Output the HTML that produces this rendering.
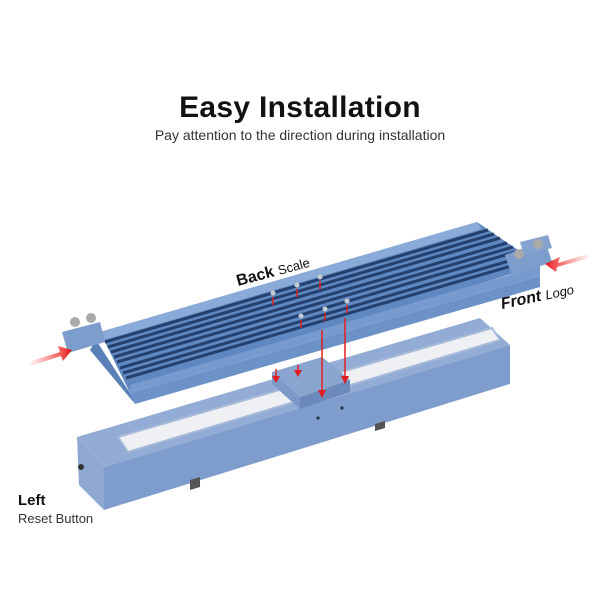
<!DOCTYPE html>
<html><head><meta charset="utf-8"><style>
html,body{margin:0;padding:0;background:#fff;width:600px;height:600px;overflow:hidden;font-family:"Liberation Sans",sans-serif}
.t{position:absolute;left:0;width:600px;text-align:center;color:#111}
</style></head><body>
<div class="t" style="top:91px;font-size:30px;font-weight:bold;letter-spacing:0.3px">Easy Installation</div>
<div class="t" style="top:127px;font-size:14px;color:#333">Pay attention to the direction during installation</div>
<svg width="600" height="600" style="position:absolute;left:0;top:0">
<defs>
<linearGradient id="ra" x1="0" x2="1"><stop offset="0" stop-color="#f33" stop-opacity="0"/><stop offset="1" stop-color="#e41b1b"/></linearGradient>
<linearGradient id="rb" x1="1" x2="0"><stop offset="0" stop-color="#f33" stop-opacity="0"/><stop offset="1" stop-color="#e41b1b"/></linearGradient>
</defs>
<!-- base box -->
<polygon points="77,437 480,318 510,345 104,467" fill="#93acd5"/>
<polygon points="104,467 510,345 510,384 104,510" fill="#7f9dcc"/>
<polygon points="77,437 104,467 104,510 79,485" fill="#8ea8d2"/>
<polygon points="190,480 200,477 200,487 190,490" fill="#555"/>
<polygon points="375,424 385,421 385,428 375,431" fill="#555"/>
<polygon points="118,437 492,328 500,340 128,452" fill="#eef0f3" stroke="#a6b9d8" stroke-width="2"/>
<circle cx="81" cy="467" r="3" fill="#333"/>
<circle cx="318" cy="418" r="1.6" fill="#234"/><circle cx="342" cy="408" r="1.6" fill="#234"/>
<!-- carriage -->
<polygon points="272,372 322,357 350,380 300,397" fill="#8aa5cf"/>
<polygon points="300,397 350,380 350,392 300,409" fill="#6b89ba"/>
<polygon points="272,372 300,397 300,409 272,384" fill="#7c99c8"/>
<!-- plate -->
<polygon points="100,332 477,222 540,265 130,393" fill="#5f87c0"/>
<polygon points="96,340 130,393 135,404 90,350" fill="#5a80b8"/>
<polygon points="130,393 540,276 540,287 135,404" fill="#6d92c8"/>
<polygon points="130,385 540,266 540,276 130,393" fill="#789bcf"/>
<polygon points="100,332 477,222 482,229 104,340" fill="#8aaad8"/>
<g stroke="#24406e" stroke-width="3">
<line x1="105" y1="342" x2="488" y2="230"/>
<line x1="108" y1="347" x2="494" y2="234"/>
<line x1="111" y1="352" x2="500" y2="238"/>
<line x1="114" y1="357" x2="507" y2="243"/>
<line x1="117" y1="362" x2="513" y2="247"/>
<line x1="120" y1="368" x2="519" y2="251"/>
<line x1="123" y1="373" x2="526" y2="256"/>
<line x1="126" y1="378" x2="532" y2="260"/>
</g>
<!-- brackets -->
<polygon points="62,332 100,322 105,342 68,353" fill="#7d9dcc"/>
<circle cx="75" cy="322" r="5" fill="#aaa"/><circle cx="91" cy="318" r="5" fill="#aaa"/>
<polygon points="505,255 545,240 552,262 512,276" fill="#7d9dcc"/>
<polygon points="520,242 548,235 552,248 524,255" fill="#86a3cf"/>
<circle cx="519" cy="254" r="5" fill="#aaa"/><circle cx="538" cy="244" r="5" fill="#aaa"/>
<!-- screws and red lines -->
<g stroke="#e02020" stroke-width="1.5">
<line x1="322" y1="330" x2="322" y2="392"/>
<line x1="345" y1="318" x2="345" y2="378"/>
<line x1="298" y1="365" x2="298" y2="372"/>
<line x1="276" y1="369" x2="276" y2="378"/>
<line x1="273" y1="297" x2="273" y2="305"/>
<line x1="297" y1="289" x2="297" y2="297"/>
<line x1="320" y1="281" x2="320" y2="289"/>
<line x1="301" y1="320" x2="301" y2="328"/>
<line x1="325" y1="313" x2="325" y2="321"/>
<line x1="347" y1="305" x2="347" y2="313"/>
</g>
<g fill="#e02020">
<polygon points="318,390 326,390 322,398"/><polygon points="341,376 349,376 345,384"/>
<polygon points="294,370 302,370 298,377"/><polygon points="272,376 280,376 276,383"/>
</g>
<g fill="#c8ccd2"><circle cx="273" cy="293" r="2.5"/><circle cx="297" cy="285" r="2.5"/><circle cx="320" cy="277" r="2.5"/><circle cx="301" cy="316" r="2.5"/><circle cx="325" cy="309" r="2.5"/><circle cx="347" cy="301" r="2.5"/></g>
<!-- big red arrows -->
<polygon points="28,362 60,352 58,346 72,350 63,361 61,356 30,366" fill="url(#ra)"/>
<polygon points="588,254 558,263 560,257 545,264 556,272 557,267 590,258" fill="url(#rb)"/>
<text x="0" y="0" transform="translate(238,286) rotate(-15)" font-size="16" font-weight="bold" fill="#111">Back <tspan font-weight="normal" font-size="13">Scale</tspan></text>
<text x="0" y="0" transform="translate(502,309) rotate(-12)" font-size="16" font-weight="bold" font-style="italic" fill="#111">Front <tspan font-weight="normal" font-size="13">Logo</tspan></text>
<text x="18" y="505" font-size="15" font-weight="bold" fill="#111">Left</text>
<text x="18" y="523" font-size="13" fill="#333">Reset Button</text>
</svg>
</body></html>
